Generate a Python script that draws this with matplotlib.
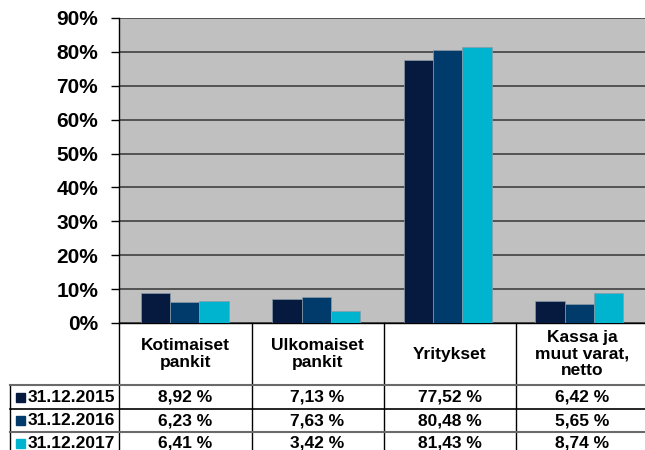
import matplotlib
matplotlib.use("Agg")
import matplotlib.pyplot as plt
from matplotlib.lines import Line2D
from matplotlib.patches import Rectangle
from matplotlib.ticker import MultipleLocator, FuncFormatter

categories = ["Kotimaiset\npankit", "Ulkomaiset\npankit", "Yritykset", "Kassa ja\nmuut varat,\nnetto"]
series_names = ["31.12.2015", "31.12.2016", "31.12.2017"]
values_2015 = [8.92, 7.13, 77.52, 6.42]
values_2016 = [6.23, 7.63, 80.48, 5.65]
values_2017 = [6.41, 3.42, 81.43, 8.74]
colors = ["#061a40", "#003b6b", "#00b4d0"]

series = [values_2015, values_2016, values_2017]

plt.rcParams['font.family'] = ['Liberation Sans', 'DejaVu Sans']
plt.rcParams['font.weight'] = 'bold'

W, H = 645, 450
fig = plt.figure(figsize=(W / 100, H / 100), dpi=100)

def fx(x):
    return x / W

def fy(y):
    return 1 - y / H

left, right, top, bottom = 119, 645, 18, 323
ax = fig.add_axes([fx(left), fy(bottom), (right - left) / W, (bottom - top) / H])
ax.set_facecolor("#c0c0c0")

bw = 0.224
n = len(categories)
for i, (vals, c) in enumerate(zip(series, colors)):
    xs = [k + (i - 1) * bw for k in range(n)]
    ax.bar(xs, [v / 100 for v in vals], width=bw, color=c, edgecolor="#8a9aa8",
           linewidth=0.5, zorder=3)

ax.set_xlim(-0.5, n - 0.5)
ax.set_ylim(0, 0.9)
ax.yaxis.set_major_locator(MultipleLocator(0.1))
ax.yaxis.set_major_formatter(FuncFormatter(lambda v, p: f"{v*100:.0f}%"))
ax.grid(axis="y", color="#404040", linewidth=1.2, zorder=1)
ax.set_axisbelow(True)
ax.set_xticks([])
for s in ["top", "right"]:
    ax.spines[s].set_visible(False)
ax.spines["left"].set_color("black")
ax.spines["left"].set_linewidth(1.0)
ax.spines["bottom"].set_color("black")
ax.spines["bottom"].set_linewidth(1.0)
ax.tick_params(axis="y", length=6, width=1, color="black", labelsize=15, pad=9)
for t in ax.get_yticklabels():
    t.set_fontweight("bold")

# table
fs = 12.5
col_edges = [119, 251.5, 383.5, 516, 648]
def vline(x, y0, y1, color="black", lw=1.0):
    fig.add_artist(Line2D([fx(x), fx(x)], [fy(y0), fy(y1)], color=color, lw=lw,
                          transform=fig.transFigure))
def hline(y, x0, x1, color="black", lw=1.0):
    fig.add_artist(Line2D([fx(x0), fx(x1)], [fy(y), fy(y)], color=color, lw=lw,
                          transform=fig.transFigure))

for x in col_edges[:-1]:
    vline(x, 323, 455)
vline(10, 385, 455)
hline(385, 10, 645, color="#6a6a6a", lw=1.5)
hline(409, 10, 645, color="black", lw=1.2)
hline(432, 10, 645, color="#6a6a6a", lw=1.5)

for k, cat in enumerate(categories):
    cx = (col_edges[k] + col_edges[k + 1]) / 2
    fig.text(fx(cx), fy(354), cat, ha="center", va="center", fontsize=fs,
             fontweight="bold", linespacing=1.1)

row_centers = [397, 420.5, 443]
for r, (name, vals, c) in enumerate(zip(series_names, series, colors)):
    yc = row_centers[r]
    fig.add_artist(Rectangle((fx(16), fy(yc + 4.5)), 9 / W, 9 / H, color=c,
                             transform=fig.transFigure))
    fig.text(fx(28), fy(yc), name, ha="left", va="center", fontsize=fs, fontweight="bold")
    for k, v in enumerate(vals):
        cx = (col_edges[k] + col_edges[k + 1]) / 2
        fig.text(fx(cx), fy(yc), f"{v:.2f} %".replace(".", ","), ha="center",
                 va="center", fontsize=fs, fontweight="bold")

fig.savefig("out.png", dpi=100, facecolor="white")
